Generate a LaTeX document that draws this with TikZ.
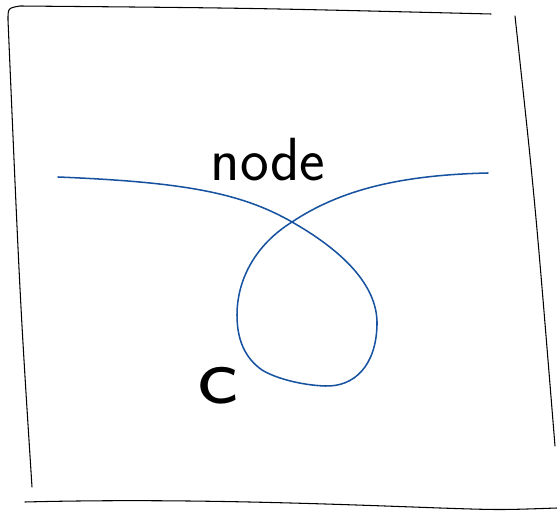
\documentclass[tikz,border=0pt]{standalone}
\usepackage{tikz}
\usetikzlibrary{positioning}
\definecolor{loopblue}{RGB}{22,82,160}
\tikzset{
    sketchframe/.style={draw, line width=0.9pt, line cap=round, black},
    sketchcurve/.style={draw, line width=1.3pt, loopblue, line cap=round},
    sketchlabel/.style={font=\sffamily\fontsize{52}{52}\selectfont, inner sep=0pt},
    sketchletter/.style={font=\sffamily\fontsize{70}{70}\selectfont, inner sep=0pt, xscale=1.2}
}

\begin{document}
\begin{tikzpicture}[x=0.03cm, y=-0.03cm]
    \useasboundingbox (0,0) rectangle (557,511);

    % frame
    \draw[sketchframe] (32,487) .. controls (20,300) .. (8,20) .. controls (8,8) .. (20,6)
        .. controls (250,8) .. (491,14);
    \draw[sketchframe] (515,16) .. controls (535,200) .. (555,446);
    \draw[sketchframe] (25,502) .. controls (180,498) and (330,504) .. (440,508)
        .. controls (500,510) .. (557,508);

    % loop
    \draw[sketchcurve] (58,177) .. controls (180,182) and (240,192) .. (292,222)
        .. controls (350,255) and (378,290) .. (377,325)
        .. controls (376,365) and (355,387) .. (325,386)
        .. controls (300,385) and (275,378) .. (262,370)
        .. controls (245,358) and (237,340) .. (237,315)
        .. controls (237,280) and (255,245) .. (292,222)
        .. controls (340,190) and (400,175) .. (488,173);

    % labels
    \node[sketchlabel] (nodetext) at (268,160) {node};
    \node[sketchletter] (ctext) at (218,386) {c};
\end{tikzpicture}
\end{document}
